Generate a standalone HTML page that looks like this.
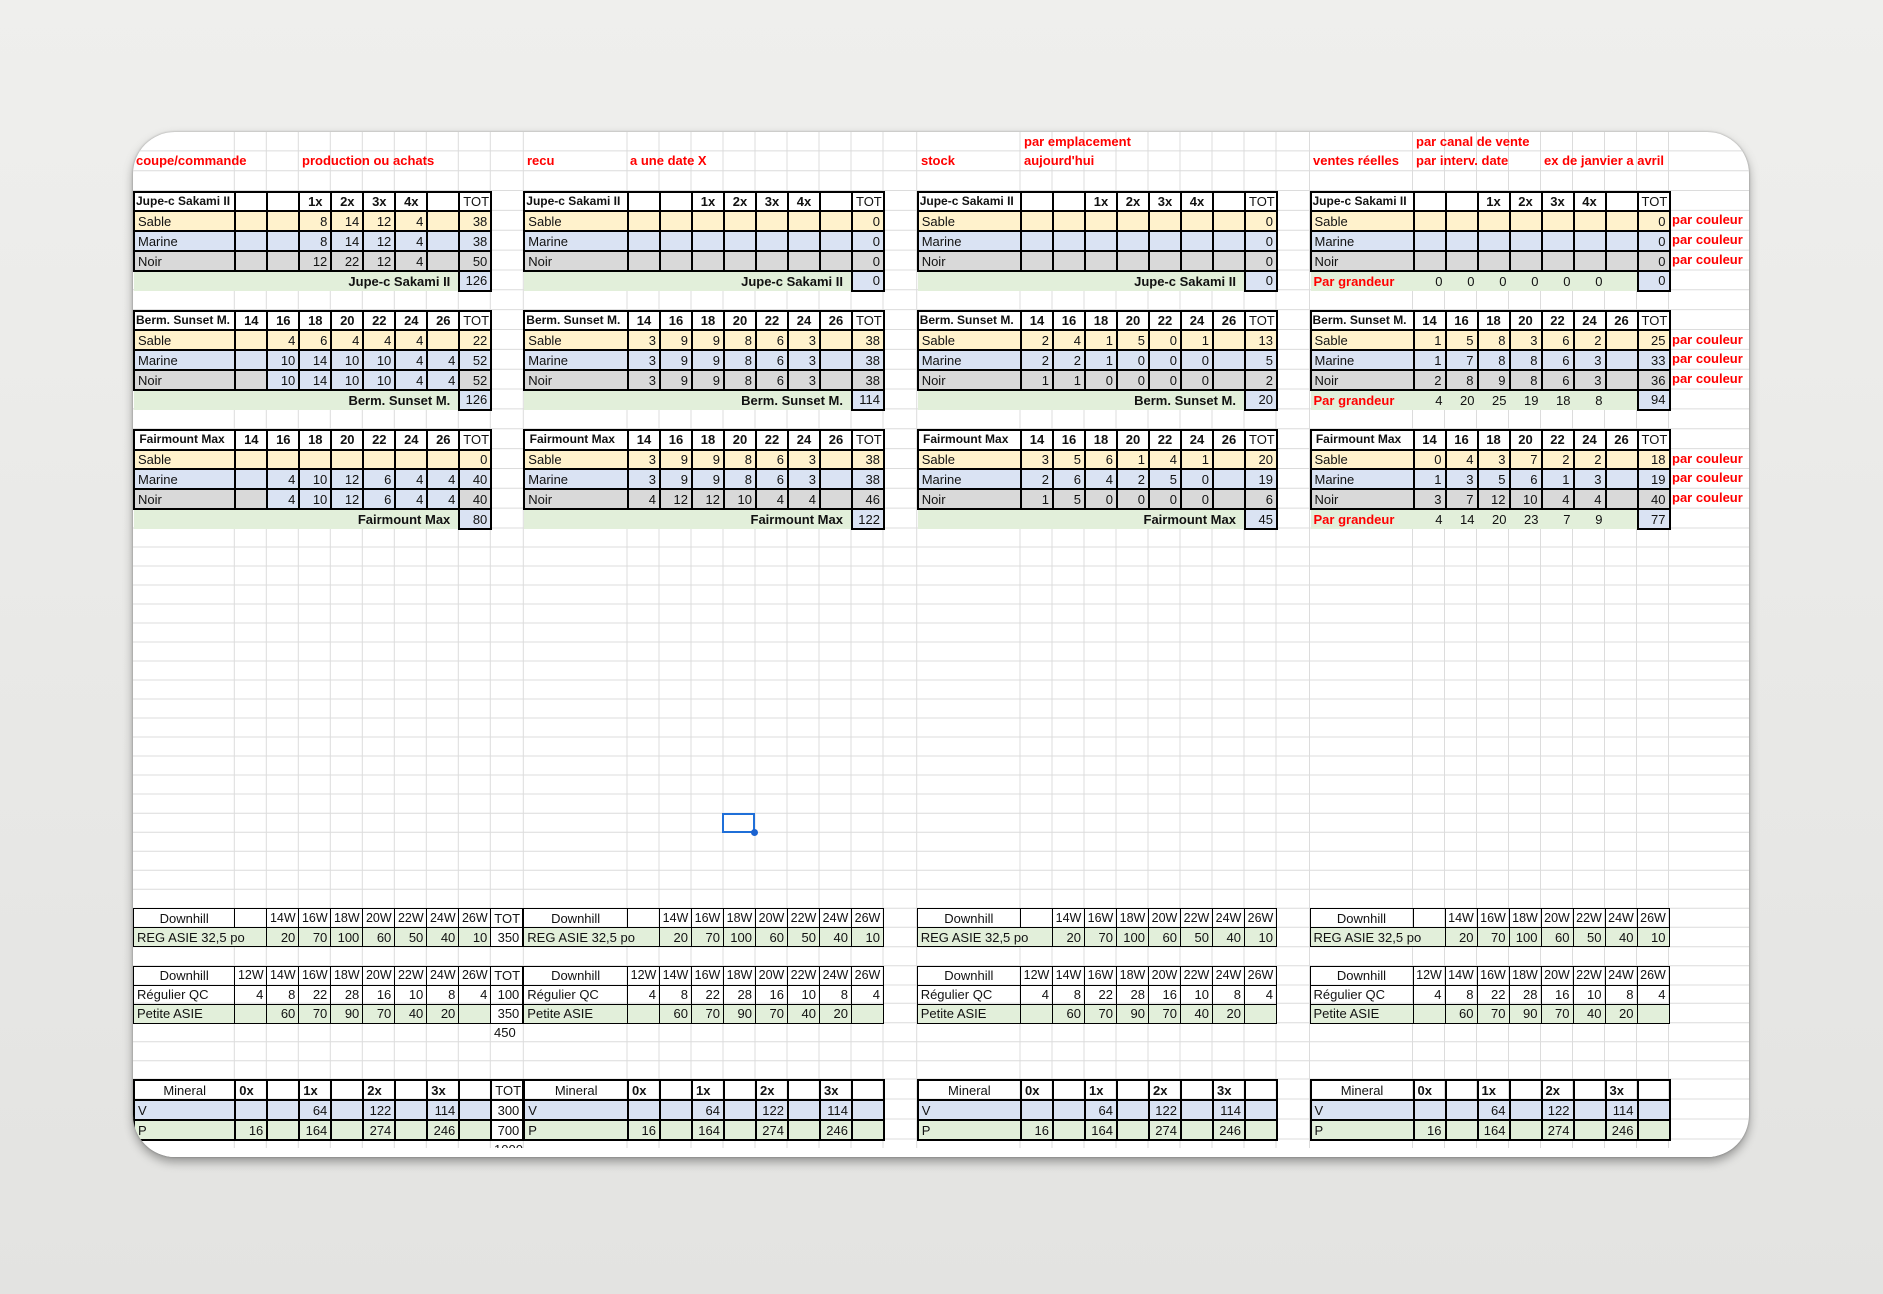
<!DOCTYPE html>
<html><head><meta charset="utf-8"><style>
html,body{margin:0;padding:0}
body{width:1883px;height:1294px;background:linear-gradient(#efefed,#e3e3e1);position:relative;overflow:hidden;font-family:"Liberation Sans",sans-serif;}
#card{position:absolute;left:133px;top:132px;width:1616px;height:1025px;background:#fff;border-radius:42px;overflow:hidden;box-shadow:0 5px 10px rgba(0,0,0,.35),0 0 2px rgba(0,0,0,.3);}
#w{position:absolute;left:-133px;top:-132px;width:1883px;height:1294px}
svg{position:absolute;left:0;top:0}
table{position:absolute;border-collapse:collapse;table-layout:fixed;font-size:13px;color:#111}
td{padding:0 3px;white-space:nowrap;overflow:hidden;text-align:right;line-height:15px}
.u td{border:2px solid #000}
.u tr{height:19.85px}
.u tr.h td{font-weight:bold;text-align:center;background:#fff}
.u tr.h td.l{text-align:left;font-size:12px;padding-left:1px}
.u tr.h td.tt{font-weight:normal}
tr.s td{background:#fff2cc}
tr.m td{background:#dae3f3}
tr.n td{background:#d9d9d9}
tr.g td{background:#e2efda}
td.l{text-align:left}
td.c{text-align:center}
tr td.bl{background:#dae3f3}
td.tl{background:#e2efda;border-left:none !important;border-bottom:none !important;border-right:none;font-weight:bold;text-align:right;padding-right:8px}
td.tb{background:#dae3f3 !important}
td.pg{background:#e2efda;border-left:none !important;border-bottom:none !important;border-right:none !important;color:#f00;font-weight:bold;text-align:left}
td.gv{background:#e2efda;border-left:none !important;border-bottom:none !important;border-right:none !important}
tr td.w{background:#fff}
.d td{border:1px solid #000}
.d tr{height:19.1px}
.d td.hd{text-align:center;padding:0;font-size:12.5px}
.mn td{border:2px solid #000}
.mn tr{height:20px}
.mn td.b{font-weight:bold;text-align:left}
.t{position:absolute;color:#f00;font-weight:bold;font-size:13px;line-height:19.85px;white-space:nowrap}
.p{position:absolute;font-size:13px;color:#111;line-height:19px}
</style></head><body>
<div id="card"><div id="w">
<svg width="1883" height="1294"><path stroke="#dcdcdc" stroke-width="1" fill="none" d="
M234.3 0V1148M266.3 0V1148M298.3 0V1148M330.3 0V1148M362.3 0V1148M394.3 0V1148M426.3 0V1148M458.3 0V1148M490.3 0V1148M523.3 0V1148
M627 0V1148M659 0V1148M691 0V1148M723 0V1148M755 0V1148M787 0V1148M819 0V1148M851 0V1148M883 0V1148M916.7 0V1148
M1020 0V1148M1052 0V1148M1084 0V1148M1116 0V1148M1148 0V1148M1180 0V1148M1212 0V1148M1244 0V1148M1276 0V1148M1309.5 0V1148
M1412.5 0V1148M1444.5 0V1148M1476.5 0V1148M1508.5 0V1148M1540.5 0V1148M1572.5 0V1148M1604.5 0V1148M1636.5 0V1148M1668.5 0V1148
M0 150.85H1883M0 170.7H1883M0 190.55H1883M0 210.4H1883M0 230.25H1883M0 250.1H1883M0 269.95H1883M0 289.8H1883M0 309.65H1883M0 329.5H1883
M0 349.35H1883M0 369.2H1883M0 389.05H1883M0 408.9H1883M0 428.75H1883M0 448.6H1883M0 468.45H1883M0 488.3H1883M0 508.15H1883M0 528H1883
M0 547H1883M0 566H1883M0 585H1883M0 604H1883M0 623H1883M0 642H1883M0 661H1883M0 680H1883M0 699H1883M0 718H1883M0 737H1883M0 756H1883
M0 775H1883M0 794H1883M0 813.3H1883M0 832.3H1883M0 851.3H1883M0 870.3H1883M0 889.3H1883M0 908.3H1883M0 927.3H1883M0 946.7H1883
M0 965.7H1883M0 985H1883M0 1003.3H1883M0 1022.7H1883M0 1041.7H1883M0 1060.7H1883M0 1079H1883M0 1099H1883M0 1119H1883M0 1139H1883"/></svg>

<!-- titles -->
<div class="t" style="left:136px;top:150.85px">coupe/commande</div>
<div class="t" style="left:302px;top:150.85px">production ou achats</div>
<div class="t" style="left:527px;top:150.85px">recu</div>
<div class="t" style="left:630px;top:150.85px">a une date X</div>
<div class="t" style="left:921px;top:150.85px">stock</div>
<div class="t" style="left:1024px;top:132px">par emplacement</div>
<div class="t" style="left:1024px;top:150.85px">aujourd'hui</div>
<div class="t" style="left:1313px;top:150.85px">ventes réelles</div>
<div class="t" style="left:1416px;top:132px">par canal de vente</div>
<div class="t" style="left:1416px;top:150.85px">par interv. date</div>
<div class="t" style="left:1544px;top:150.85px">ex de janvier a avril</div>

<!-- BLOCK 1 -->
<table class="u" style="left:133px;top:190.55px;width:357.3px"><colgroup><col style="width:101.3px"><col span="8" style="width:32px"></colgroup>
<tr class="h"><td class="l">Jupe-c Sakami II</td><td></td><td></td><td>1x</td><td>2x</td><td>3x</td><td>4x</td><td></td><td class="tt">TOT</td></tr>
<tr class="s"><td class="l">Sable</td><td></td><td></td><td>8</td><td>14</td><td>12</td><td>4</td><td></td><td>38</td></tr>
<tr class="m"><td class="l">Marine</td><td></td><td></td><td>8</td><td>14</td><td>12</td><td>4</td><td></td><td>38</td></tr>
<tr class="n"><td class="l">Noir</td><td></td><td></td><td>12</td><td>22</td><td>12</td><td>4</td><td></td><td>50</td></tr>
<tr><td colspan="8" class="tl">Jupe-c Sakami II</td><td class="tb">126</td></tr>
</table>
<table class="u" style="left:133px;top:309.65px;width:357.3px"><colgroup><col style="width:101.3px"><col span="8" style="width:32px"></colgroup>
<tr class="h"><td class="l">Berm. Sunset M.</td><td>14</td><td>16</td><td>18</td><td>20</td><td>22</td><td>24</td><td>26</td><td class="tt">TOT</td></tr>
<tr class="s"><td class="l">Sable</td><td></td><td>4</td><td>6</td><td>4</td><td>4</td><td>4</td><td></td><td>22</td></tr>
<tr class="m"><td class="l">Marine</td><td></td><td>10</td><td>14</td><td>10</td><td>10</td><td>4</td><td>4</td><td>52</td></tr>
<tr class="n"><td class="l">Noir</td><td></td><td class="bl">10</td><td class="bl">14</td><td class="bl">10</td><td class="bl">10</td><td class="bl">4</td><td class="bl">4</td><td>52</td></tr>
<tr><td colspan="8" class="tl">Berm. Sunset M.</td><td class="tb">126</td></tr>
</table>
<table class="u" style="left:133px;top:428.75px;width:357.3px"><colgroup><col style="width:101.3px"><col span="8" style="width:32px"></colgroup>
<tr class="h"><td class="l">&nbsp;Fairmount Max</td><td>14</td><td>16</td><td>18</td><td>20</td><td>22</td><td>24</td><td>26</td><td class="tt">TOT</td></tr>
<tr class="s"><td class="l">Sable</td><td></td><td></td><td></td><td></td><td></td><td></td><td></td><td>0</td></tr>
<tr class="m"><td class="l">Marine</td><td></td><td>4</td><td>10</td><td>12</td><td>6</td><td>4</td><td>4</td><td>40</td></tr>
<tr class="n"><td class="l">Noir</td><td></td><td class="bl">4</td><td class="bl">10</td><td class="bl">12</td><td class="bl">6</td><td class="bl">4</td><td class="bl">4</td><td>40</td></tr>
<tr><td colspan="8" class="tl">Fairmount Max</td><td class="tb">80</td></tr>
</table>

<!-- BLOCK 2 -->
<table class="u" style="left:523.3px;top:190.55px;width:359.7px"><colgroup><col style="width:103.7px"><col span="8" style="width:32px"></colgroup>
<tr class="h"><td class="l">Jupe-c Sakami II</td><td></td><td></td><td>1x</td><td>2x</td><td>3x</td><td>4x</td><td></td><td class="tt">TOT</td></tr>
<tr class="s"><td class="l">Sable</td><td></td><td></td><td></td><td></td><td></td><td></td><td></td><td>0</td></tr>
<tr class="m"><td class="l">Marine</td><td></td><td></td><td></td><td></td><td></td><td></td><td></td><td>0</td></tr>
<tr class="n"><td class="l">Noir</td><td></td><td></td><td></td><td></td><td></td><td></td><td></td><td>0</td></tr>
<tr><td colspan="8" class="tl">Jupe-c Sakami II</td><td class="tb">0</td></tr>
</table>
<table class="u" style="left:523.3px;top:309.65px;width:359.7px"><colgroup><col style="width:103.7px"><col span="8" style="width:32px"></colgroup>
<tr class="h"><td class="l">Berm. Sunset M.</td><td>14</td><td>16</td><td>18</td><td>20</td><td>22</td><td>24</td><td>26</td><td class="tt">TOT</td></tr>
<tr class="s"><td class="l">Sable</td><td>3</td><td>9</td><td>9</td><td>8</td><td>6</td><td>3</td><td></td><td>38</td></tr>
<tr class="m"><td class="l">Marine</td><td>3</td><td>9</td><td>9</td><td>8</td><td>6</td><td>3</td><td></td><td>38</td></tr>
<tr class="n"><td class="l">Noir</td><td>3</td><td>9</td><td>9</td><td>8</td><td>6</td><td>3</td><td></td><td>38</td></tr>
<tr><td colspan="8" class="tl">Berm. Sunset M.</td><td class="tb">114</td></tr>
</table>
<table class="u" style="left:523.3px;top:428.75px;width:359.7px"><colgroup><col style="width:103.7px"><col span="8" style="width:32px"></colgroup>
<tr class="h"><td class="l">&nbsp;Fairmount Max</td><td>14</td><td>16</td><td>18</td><td>20</td><td>22</td><td>24</td><td>26</td><td class="tt">TOT</td></tr>
<tr class="s"><td class="l">Sable</td><td>3</td><td>9</td><td>9</td><td>8</td><td>6</td><td>3</td><td></td><td>38</td></tr>
<tr class="m"><td class="l">Marine</td><td>3</td><td>9</td><td>9</td><td>8</td><td>6</td><td>3</td><td></td><td>38</td></tr>
<tr class="n"><td class="l">Noir</td><td>4</td><td>12</td><td>12</td><td>10</td><td>4</td><td>4</td><td></td><td>46</td></tr>
<tr><td colspan="8" class="tl">Fairmount Max</td><td class="tb">122</td></tr>
</table>

<!-- BLOCK 3 -->
<table class="u" style="left:916.7px;top:190.55px;width:359.3px"><colgroup><col style="width:103.3px"><col span="8" style="width:32px"></colgroup>
<tr class="h"><td class="l">Jupe-c Sakami II</td><td></td><td></td><td>1x</td><td>2x</td><td>3x</td><td>4x</td><td></td><td class="tt">TOT</td></tr>
<tr class="s"><td class="l">Sable</td><td></td><td></td><td></td><td></td><td></td><td></td><td></td><td>0</td></tr>
<tr class="m"><td class="l">Marine</td><td></td><td></td><td></td><td></td><td></td><td></td><td></td><td>0</td></tr>
<tr class="n"><td class="l">Noir</td><td></td><td></td><td></td><td></td><td></td><td></td><td></td><td>0</td></tr>
<tr><td colspan="8" class="tl">Jupe-c Sakami II</td><td class="tb">0</td></tr>
</table>
<table class="u" style="left:916.7px;top:309.65px;width:359.3px"><colgroup><col style="width:103.3px"><col span="8" style="width:32px"></colgroup>
<tr class="h"><td class="l">Berm. Sunset M.</td><td>14</td><td>16</td><td>18</td><td>20</td><td>22</td><td>24</td><td>26</td><td class="tt">TOT</td></tr>
<tr class="s"><td class="l">Sable</td><td>2</td><td>4</td><td>1</td><td>5</td><td>0</td><td>1</td><td></td><td>13</td></tr>
<tr class="m"><td class="l">Marine</td><td>2</td><td>2</td><td>1</td><td>0</td><td>0</td><td>0</td><td></td><td>5</td></tr>
<tr class="n"><td class="l">Noir</td><td>1</td><td>1</td><td>0</td><td>0</td><td>0</td><td>0</td><td></td><td>2</td></tr>
<tr><td colspan="8" class="tl">Berm. Sunset M.</td><td class="tb">20</td></tr>
</table>
<table class="u" style="left:916.7px;top:428.75px;width:359.3px"><colgroup><col style="width:103.3px"><col span="8" style="width:32px"></colgroup>
<tr class="h"><td class="l">&nbsp;Fairmount Max</td><td>14</td><td>16</td><td>18</td><td>20</td><td>22</td><td>24</td><td>26</td><td class="tt">TOT</td></tr>
<tr class="s"><td class="l">Sable</td><td>3</td><td>5</td><td>6</td><td>1</td><td>4</td><td>1</td><td></td><td>20</td></tr>
<tr class="m"><td class="l">Marine</td><td>2</td><td>6</td><td>4</td><td>2</td><td>5</td><td>0</td><td></td><td>19</td></tr>
<tr class="n"><td class="l">Noir</td><td>1</td><td>5</td><td>0</td><td>0</td><td>0</td><td>0</td><td></td><td>6</td></tr>
<tr><td colspan="8" class="tl">Fairmount Max</td><td class="tb">45</td></tr>
</table>

<!-- BLOCK 4 -->
<table class="u" style="left:1309.5px;top:190.55px;width:359px"><colgroup><col style="width:103px"><col span="8" style="width:32px"></colgroup>
<tr class="h"><td class="l">Jupe-c Sakami II</td><td></td><td></td><td>1x</td><td>2x</td><td>3x</td><td>4x</td><td></td><td class="tt">TOT</td></tr>
<tr class="s"><td class="l">Sable</td><td></td><td></td><td></td><td></td><td></td><td></td><td></td><td>0</td></tr>
<tr class="m"><td class="l">Marine</td><td></td><td></td><td></td><td></td><td></td><td></td><td></td><td>0</td></tr>
<tr class="n"><td class="l">Noir</td><td></td><td></td><td></td><td></td><td></td><td></td><td></td><td>0</td></tr>
<tr><td class="pg">Par grandeur</td><td class="gv">0</td><td class="gv">0</td><td class="gv">0</td><td class="gv">0</td><td class="gv">0</td><td class="gv">0</td><td class="gv"></td><td class="tb">0</td></tr>
</table>
<table class="u" style="left:1309.5px;top:309.65px;width:359px"><colgroup><col style="width:103px"><col span="8" style="width:32px"></colgroup>
<tr class="h"><td class="l">Berm. Sunset M.</td><td>14</td><td>16</td><td>18</td><td>20</td><td>22</td><td>24</td><td>26</td><td class="tt">TOT</td></tr>
<tr class="s"><td class="l">Sable</td><td>1</td><td>5</td><td>8</td><td>3</td><td>6</td><td>2</td><td></td><td>25</td></tr>
<tr class="m"><td class="l">Marine</td><td>1</td><td>7</td><td>8</td><td>8</td><td>6</td><td>3</td><td></td><td>33</td></tr>
<tr class="n"><td class="l">Noir</td><td>2</td><td>8</td><td>9</td><td>8</td><td>6</td><td>3</td><td></td><td>36</td></tr>
<tr><td class="pg">Par grandeur</td><td class="gv">4</td><td class="gv">20</td><td class="gv">25</td><td class="gv">19</td><td class="gv">18</td><td class="gv">8</td><td class="gv"></td><td class="tb">94</td></tr>
</table>
<table class="u" style="left:1309.5px;top:428.75px;width:359px"><colgroup><col style="width:103px"><col span="8" style="width:32px"></colgroup>
<tr class="h"><td class="l">&nbsp;Fairmount Max</td><td>14</td><td>16</td><td>18</td><td>20</td><td>22</td><td>24</td><td>26</td><td class="tt">TOT</td></tr>
<tr class="s"><td class="l">Sable</td><td>0</td><td>4</td><td>3</td><td>7</td><td>2</td><td>2</td><td></td><td>18</td></tr>
<tr class="m"><td class="l">Marine</td><td>1</td><td>3</td><td>5</td><td>6</td><td>1</td><td>3</td><td></td><td>19</td></tr>
<tr class="n"><td class="l">Noir</td><td>3</td><td>7</td><td>12</td><td>10</td><td>4</td><td>4</td><td></td><td>40</td></tr>
<tr><td class="pg">Par grandeur</td><td class="gv">4</td><td class="gv">14</td><td class="gv">20</td><td class="gv">23</td><td class="gv">7</td><td class="gv">9</td><td class="gv"></td><td class="tb">77</td></tr>
</table>

<div class="t" style="left:1672px;top:210.4px">par couleur</div>
<div class="t" style="left:1672px;top:230.25px">par couleur</div>
<div class="t" style="left:1672px;top:250.1px">par couleur</div>
<div class="t" style="left:1672px;top:329.5px">par couleur</div>
<div class="t" style="left:1672px;top:349.35px">par couleur</div>
<div class="t" style="left:1672px;top:369.2px">par couleur</div>
<div class="t" style="left:1672px;top:448.6px">par couleur</div>
<div class="t" style="left:1672px;top:468.45px">par couleur</div>
<div class="t" style="left:1672px;top:488.3px">par couleur</div>

<!-- selection -->
<div style="position:absolute;left:722px;top:812.5px;width:29px;height:16px;border:2px solid #1f6fd8"></div>
<div style="position:absolute;left:751px;top:829px;width:7px;height:7px;border-radius:50%;background:#1a62d0"></div>

<!-- LOWER BLOCK 1 -->
<table class="d" style="left:133px;top:908.3px;width:389.3px"><colgroup><col style="width:101.3px"><col span="9" style="width:32px"></colgroup>
<tr><td class="c">Downhill</td><td></td><td class="hd">14W</td><td class="hd">16W</td><td class="hd">18W</td><td class="hd">20W</td><td class="hd">22W</td><td class="hd">24W</td><td class="hd">26W</td><td class="l">TOT</td></tr>
<tr class="g"><td colspan="2" class="l">REG ASIE 32,5 po</td><td>20</td><td>70</td><td>100</td><td>60</td><td>50</td><td>40</td><td>10</td><td class="w">350</td></tr>
</table>
<table class="d" style="left:133px;top:965.7px;width:389.3px"><colgroup><col style="width:101.3px"><col span="9" style="width:32px"></colgroup>
<tr><td class="c">Downhill</td><td class="hd">12W</td><td class="hd">14W</td><td class="hd">16W</td><td class="hd">18W</td><td class="hd">20W</td><td class="hd">22W</td><td class="hd">24W</td><td class="hd">26W</td><td class="l">TOT</td></tr>
<tr><td class="l">Régulier QC</td><td>4</td><td>8</td><td>22</td><td>28</td><td>16</td><td>10</td><td>8</td><td>4</td><td>100</td></tr>
<tr class="g"><td class="l">Petite ASIE</td><td></td><td>60</td><td>70</td><td>90</td><td>70</td><td>40</td><td>20</td><td></td><td class="w">350</td></tr>
</table>
<div class="p" style="left:494px;top:1022.7px">450</div>
<table class="mn" style="left:133px;top:1079px;width:389.3px"><colgroup><col style="width:101.3px"><col span="9" style="width:32px"></colgroup>
<tr><td class="c">Mineral</td><td class="b">0x</td><td></td><td class="b">1x</td><td></td><td class="b">2x</td><td></td><td class="b">3x</td><td></td><td class="l">TOT</td></tr>
<tr class="m"><td class="l">V</td><td></td><td></td><td>64</td><td></td><td>122</td><td></td><td>114</td><td></td><td class="w">300</td></tr>
<tr class="g"><td class="l">P</td><td>16</td><td></td><td>164</td><td></td><td>274</td><td></td><td>246</td><td></td><td class="w">700</td></tr>
</table>
<div class="p" style="left:494px;top:1140px">1000</div>

<!-- LOWER BLOCK 2 -->
<table class="d" style="left:523.3px;top:908.3px;width:359.7px"><colgroup><col style="width:103.7px"><col span="8" style="width:32px"></colgroup>
<tr><td class="c">Downhill</td><td></td><td class="hd">14W</td><td class="hd">16W</td><td class="hd">18W</td><td class="hd">20W</td><td class="hd">22W</td><td class="hd">24W</td><td class="hd">26W</td></tr>
<tr class="g"><td colspan="2" class="l">REG ASIE 32,5 po</td><td>20</td><td>70</td><td>100</td><td>60</td><td>50</td><td>40</td><td>10</td></tr>
</table>
<table class="d" style="left:523.3px;top:965.7px;width:359.7px"><colgroup><col style="width:103.7px"><col span="8" style="width:32px"></colgroup>
<tr><td class="c">Downhill</td><td class="hd">12W</td><td class="hd">14W</td><td class="hd">16W</td><td class="hd">18W</td><td class="hd">20W</td><td class="hd">22W</td><td class="hd">24W</td><td class="hd">26W</td></tr>
<tr><td class="l">Régulier QC</td><td>4</td><td>8</td><td>22</td><td>28</td><td>16</td><td>10</td><td>8</td><td>4</td></tr>
<tr class="g"><td class="l">Petite ASIE</td><td></td><td>60</td><td>70</td><td>90</td><td>70</td><td>40</td><td>20</td><td></td></tr>
</table>
<table class="mn" style="left:523.3px;top:1079px;width:359.7px"><colgroup><col style="width:103.7px"><col span="8" style="width:32px"></colgroup>
<tr><td class="c">Mineral</td><td class="b">0x</td><td></td><td class="b">1x</td><td></td><td class="b">2x</td><td></td><td class="b">3x</td><td></td></tr>
<tr class="m"><td class="l">V</td><td></td><td></td><td>64</td><td></td><td>122</td><td></td><td>114</td><td></td></tr>
<tr class="g"><td class="l">P</td><td>16</td><td></td><td>164</td><td></td><td>274</td><td></td><td>246</td><td></td></tr>
</table>

<!-- LOWER BLOCK 3 -->
<table class="d" style="left:916.7px;top:908.3px;width:359.3px"><colgroup><col style="width:103.3px"><col span="8" style="width:32px"></colgroup>
<tr><td class="c">Downhill</td><td></td><td class="hd">14W</td><td class="hd">16W</td><td class="hd">18W</td><td class="hd">20W</td><td class="hd">22W</td><td class="hd">24W</td><td class="hd">26W</td></tr>
<tr class="g"><td colspan="2" class="l">REG ASIE 32,5 po</td><td>20</td><td>70</td><td>100</td><td>60</td><td>50</td><td>40</td><td>10</td></tr>
</table>
<table class="d" style="left:916.7px;top:965.7px;width:359.3px"><colgroup><col style="width:103.3px"><col span="8" style="width:32px"></colgroup>
<tr><td class="c">Downhill</td><td class="hd">12W</td><td class="hd">14W</td><td class="hd">16W</td><td class="hd">18W</td><td class="hd">20W</td><td class="hd">22W</td><td class="hd">24W</td><td class="hd">26W</td></tr>
<tr><td class="l">Régulier QC</td><td>4</td><td>8</td><td>22</td><td>28</td><td>16</td><td>10</td><td>8</td><td>4</td></tr>
<tr class="g"><td class="l">Petite ASIE</td><td></td><td>60</td><td>70</td><td>90</td><td>70</td><td>40</td><td>20</td><td></td></tr>
</table>
<table class="mn" style="left:916.7px;top:1079px;width:359.3px"><colgroup><col style="width:103.3px"><col span="8" style="width:32px"></colgroup>
<tr><td class="c">Mineral</td><td class="b">0x</td><td></td><td class="b">1x</td><td></td><td class="b">2x</td><td></td><td class="b">3x</td><td></td></tr>
<tr class="m"><td class="l">V</td><td></td><td></td><td>64</td><td></td><td>122</td><td></td><td>114</td><td></td></tr>
<tr class="g"><td class="l">P</td><td>16</td><td></td><td>164</td><td></td><td>274</td><td></td><td>246</td><td></td></tr>
</table>

<!-- LOWER BLOCK 4 -->
<table class="d" style="left:1309.5px;top:908.3px;width:359px"><colgroup><col style="width:103px"><col span="8" style="width:32px"></colgroup>
<tr><td class="c">Downhill</td><td></td><td class="hd">14W</td><td class="hd">16W</td><td class="hd">18W</td><td class="hd">20W</td><td class="hd">22W</td><td class="hd">24W</td><td class="hd">26W</td></tr>
<tr class="g"><td colspan="2" class="l">REG ASIE 32,5 po</td><td>20</td><td>70</td><td>100</td><td>60</td><td>50</td><td>40</td><td>10</td></tr>
</table>
<table class="d" style="left:1309.5px;top:965.7px;width:359px"><colgroup><col style="width:103px"><col span="8" style="width:32px"></colgroup>
<tr><td class="c">Downhill</td><td class="hd">12W</td><td class="hd">14W</td><td class="hd">16W</td><td class="hd">18W</td><td class="hd">20W</td><td class="hd">22W</td><td class="hd">24W</td><td class="hd">26W</td></tr>
<tr><td class="l">Régulier QC</td><td>4</td><td>8</td><td>22</td><td>28</td><td>16</td><td>10</td><td>8</td><td>4</td></tr>
<tr class="g"><td class="l">Petite ASIE</td><td></td><td>60</td><td>70</td><td>90</td><td>70</td><td>40</td><td>20</td><td></td></tr>
</table>
<table class="mn" style="left:1309.5px;top:1079px;width:359px"><colgroup><col style="width:103px"><col span="8" style="width:32px"></colgroup>
<tr><td class="c">Mineral</td><td class="b">0x</td><td></td><td class="b">1x</td><td></td><td class="b">2x</td><td></td><td class="b">3x</td><td></td></tr>
<tr class="m"><td class="l">V</td><td></td><td></td><td>64</td><td></td><td>122</td><td></td><td>114</td><td></td></tr>
<tr class="g"><td class="l">P</td><td>16</td><td></td><td>164</td><td></td><td>274</td><td></td><td>246</td><td></td></tr>
</table>

<div style="position:absolute;left:0;top:1148px;width:1883px;height:30px;background:#fff"></div>
</div></div>
</body></html>
